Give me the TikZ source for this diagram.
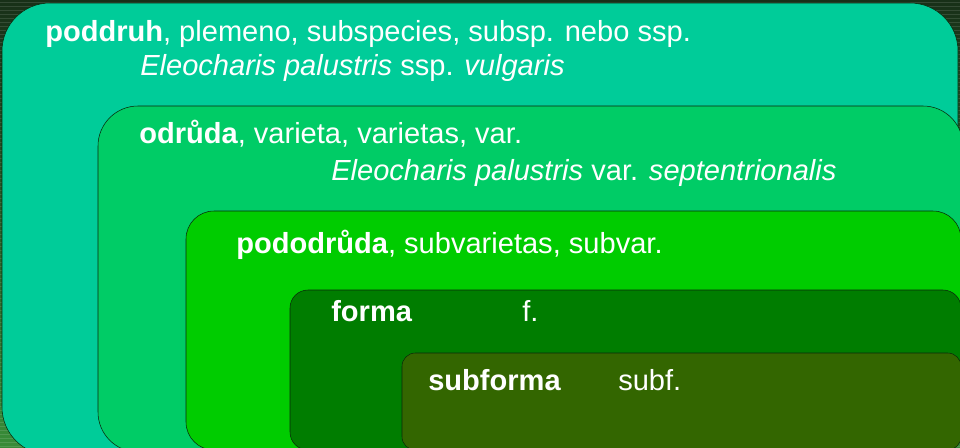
\documentclass[tikz,border=0pt]{standalone}
\usepackage{fontspec}
\setmainfont{Liberation Sans}
\definecolor{bgtop}{RGB}{24,48,24}
\definecolor{bgbottom}{RGB}{56,140,56}
\definecolor{edgecol}{RGB}{10,40,10}
\definecolor{poddruhcol}{RGB}{0,204,153}
\definecolor{odrudacol}{RGB}{0,204,102}
\definecolor{pododrudacol}{RGB}{0,204,0}
\definecolor{formacol}{RGB}{0,125,0}
\definecolor{subformacol}{RGB}{51,102,0}
\begin{document}
\begin{tikzpicture}[x=0.75pt,y=-0.75pt,
	taxon/.style={anchor=base west,inner sep=0pt,text=white,font=\fontsize{21.8}{26}\selectfont}]
		
		\useasboundingbox (0,0) rectangle (960,447);
		
		\shade[top color=bgtop,bottom color=bgbottom] (0,0) rectangle (960,447);
		\foreach \y in {2,6,...,446}
		\draw[white,opacity=0.12] (0,\y) -- (960,\y);
		
		\draw[edgecol,fill=poddruhcol,rounded corners=36pt] (2,3) rectangle (958,455);
		\draw[edgecol,fill=odrudacol,rounded corners=30pt] (98,106) rectangle (963,452);
		\draw[edgecol,fill=pododrudacol,rounded corners=21pt] (186,211) rectangle (961,450);
		\draw[edgecol,fill=formacol,rounded corners=13.5pt] (290,290) rectangle (961,450);
		\draw[edgecol,fill=subformacol,rounded corners=10pt] (402,353) rectangle (961,450);
		
		\node[taxon] (poddruh) at (45,41.5) {\textbf{poddruh}, plemeno, subspecies, subsp. nebo ssp.};
		\node[taxon] (poddruhex) at (140,75) {\textit{Eleocharis palustris} ssp. \textit{vulgaris}};
		
		\node[taxon] (odruda) at (139,143) {\textbf{odrůda}, varieta, varietas, var.};
		\node[taxon] (odrudaex) at (331,180) {\textit{Eleocharis palustris} var. \textit{septentrionalis}};
		
		\node[taxon] (pododruda) at (236,253) {\textbf{pododrůda}, subvarietas, subvar.};
		
		\node[taxon] (forma) at (331,321) {\textbf{forma}};
		\node[taxon] (formaabbr) at (522,321) {f.};
		
		\node[taxon] (subforma) at (428,390) {\textbf{subforma}};
		\node[taxon] (subformaabbr) at (618,390) {subf.};
		
\end{tikzpicture}
\end{document}
